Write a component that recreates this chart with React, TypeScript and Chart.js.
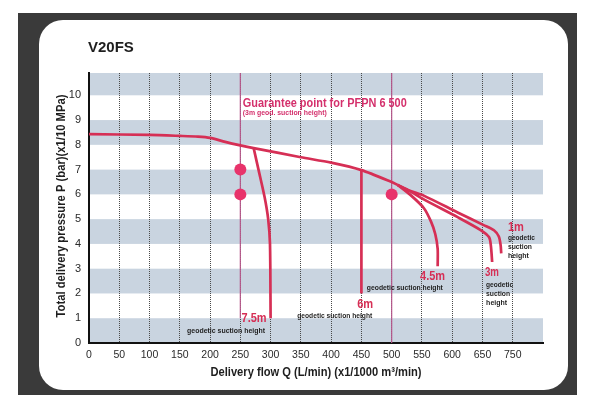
import React, { useEffect, useRef } from 'react';
import { Chart, registerables } from 'chart.js';

Chart.register(...registerables);

// ---- Data ----
const xTickValues = [0, 50, 100, 150, 200, 250, 300, 350, 400, 450, 500, 550, 600, 650, 700];
const xTickLabels = ['0', '50', '100', '150', '200', '250', '300', '350', '400', '450', '500', '550', '600', '650', '750'];
const yTickValues = [0, 1, 2, 3, 4, 5, 6, 7, 8, 9, 10];
const bandRanges: [number, number][] = [[0, 1], [2, 3], [4, 5], [6, 7], [8, 9], [10, 10.9]];

// common curve
const mainQ = [0, 100, 150, 180, 200, 225, 250, 272, 350, 400, 450, 500, 510];
const mainP = [8.43, 8.4, 8.36, 8.33, 8.28, 8.12, 7.98, 7.87, 7.5, 7.28, 6.98, 6.5, 6.38];
// 7.5 m geodetic suction height
const h75Q = [272, 280, 290, 296, 299, 300];
const h75P = [7.87, 7.0, 5.9, 5.0, 4.0, 1.0];
// 6 m
const h6Q = [450, 450];
const h6P = [6.98, 2.0];
// 4.5 m
const h45Q = [510, 530, 553, 565, 572, 576, 576];
const h45P = [6.38, 6.0, 5.45, 4.9, 4.4, 3.8, 3.1];
// 3 m
const h3Q = [510, 530, 553, 609, 647, 661, 664, 666];
const h3P = [6.38, 6.13, 5.8, 5.08, 4.56, 4.27, 3.9, 3.27];
// 1 m
const h1Q = [510, 530, 553, 609, 652, 669, 677, 680, 681];
const h1P = [6.38, 6.15, 5.95, 5.27, 4.76, 4.55, 4.3, 3.95, 3.62];
// guarantee reference lines and points
const guide250Q = [250, 250];
const guide250P = [10.9, 1.0];
const guide500Q = [500, 500];
const guide500P = [10.9, 0];
const guaranteeQ = [250, 250, 500];
const guaranteeP = [7, 6, 6];

const X_MAX = 750;
const Y_MAX = 10.9;

const CURVE = '#d62f55';
const GUIDE = '#b5578a';
const POINT = '#e8336b';
const MAGENTA = '#d4306c';
const BAND = '#c9d4e0';
const TEXT = '#1e1e1e';
const SANS = '"Liberation Sans", Arial, sans-serif';

const zip = (q: number[], p: number[]) => q.map((v, i) => ({ x: v, y: p[i] }));

type Note = { text: string; q: number; p: number; size: number; w: number; color: string };
const notes: Note[] = [
  { text: 'Guarantee point for PFPN 6 500', q: 254, p: 9.68, size: 12.5, w: 164, color: MAGENTA },
  { text: '(3m geod. suction height)', q: 254, p: 9.27, size: 6.5, w: 84, color: MAGENTA },
  { text: '7.5m', q: 252, p: 0.97, size: 12, w: 25, color: CURVE },
  { text: 'geodetic suction height', q: 162, p: 0.48, size: 7.5, w: 78, color: TEXT },
  { text: '6m', q: 443, p: 1.53, size: 12, w: 16, color: CURVE },
  { text: 'geodetic suction height', q: 344, p: 1.09, size: 7.5, w: 75, color: TEXT },
  { text: '4.5m', q: 547, p: 2.66, size: 12, w: 25, color: CURVE },
  { text: 'geodetic suction height', q: 459, p: 2.22, size: 7.5, w: 76, color: TEXT },
  { text: '3m', q: 654, p: 2.82, size: 12, w: 14, color: CURVE },
  { text: 'geodetic', q: 656, p: 2.34, size: 7.5, w: 27, color: TEXT },
  { text: 'suction', q: 656, p: 1.98, size: 7.5, w: 24, color: TEXT },
  { text: 'height', q: 656, p: 1.61, size: 7.5, w: 21, color: TEXT },
  { text: '1m', q: 692, p: 4.64, size: 12, w: 16, color: CURVE },
  { text: 'geodetic', q: 692, p: 4.23, size: 7.5, w: 27, color: TEXT },
  { text: 'suction', q: 692, p: 3.87, size: 7.5, w: 24, color: TEXT },
  { text: 'height', q: 692, p: 3.51, size: 7.5, w: 21, color: TEXT },
];

// draw text squeezed horizontally to a target width (condensed look)
function fitText(ctx: CanvasRenderingContext2D, text: string, x: number, y: number, font: string, w: number, align: 'left' | 'center') {
  ctx.font = font;
  const natural = ctx.measureText(text).width;
  const sx = w / natural;
  ctx.save();
  ctx.translate(x, y);
  ctx.scale(sx, 1);
  ctx.textAlign = align;
  ctx.fillText(text, 0, 0);
  ctx.restore();
}

const decorPlugin = {
  id: 'decor',
  beforeDraw(chart: any) {
    const { ctx, chartArea, scales } = chart;
    const y = scales.y;
    ctx.save();
    ctx.fillStyle = BAND;
    bandRanges.forEach(([a, b]) => {
      const top = y.getPixelForValue(b);
      const bot = y.getPixelForValue(a);
      ctx.fillRect(chartArea.left, top, chartArea.right - chartArea.left, bot - top);
    });
    ctx.restore();
  },
  afterDraw(chart: any) {
    const { ctx, scales } = chart;
    const x = scales.x;
    const y = scales.y;
    ctx.save();
    ctx.textBaseline = 'middle';
    ctx.fillStyle = TEXT;
    ctx.font = `bold 15px ${SANS}`;
    ctx.textAlign = 'left';
    ctx.fillText('V20FS', 88, 48);
    // axis titles
    fitText(ctx, 'Delivery flow Q (L/min) (x1/1000 m³/min)', 316, 372, `bold 13.5px ${SANS}`, 211, 'center');
    ctx.save();
    ctx.translate(61, 206);
    ctx.rotate(-Math.PI / 2);
    fitText(ctx, 'Total delivery pressure P (bar)(x1/10 MPa)', 0, 0, `bold 13px ${SANS}`, 223, 'center');
    ctx.restore();
    // notes
    notes.forEach((n) => {
      ctx.fillStyle = n.color;
      fitText(ctx, n.text, x.getPixelForValue(n.q), y.getPixelForValue(n.p), `bold ${n.size}px ${SANS}`, n.w, 'left');
    });
    ctx.restore();
  },
};

export default function App() {
  const ref = useRef<HTMLCanvasElement | null>(null);
  useEffect(() => {
    if (!ref.current) return;
    const curve = (data: { x: number; y: number }[]) => ({
      data,
      borderColor: CURVE,
      borderWidth: 2.7,
      pointRadius: 0,
      fill: false,
      tension: 0.25,
      order: 1,
    });
    const chart = new Chart(ref.current, {
      type: 'line',
      data: {
        datasets: [
          {
            data: zip(guaranteeQ, guaranteeP),
            showLine: false,
            pointRadius: 6,
            pointBackgroundColor: POINT,
            pointBorderWidth: 0,
            borderColor: POINT,
            order: 0,
          } as any,
          curve(zip(mainQ, mainP)),
          curve(zip(h75Q, h75P)),
          curve(zip(h6Q, h6P)),
          curve(zip(h45Q, h45P)),
          curve(zip(h3Q, h3P)),
          curve(zip(h1Q, h1P)),
          { data: zip(guide250Q, guide250P), borderColor: GUIDE, borderWidth: 1.2, pointRadius: 0, order: 2 },
          { data: zip(guide500Q, guide500P), borderColor: GUIDE, borderWidth: 1.2, pointRadius: 0, order: 2 },
        ],
      },
      options: {
        responsive: false,
        animation: false,
        devicePixelRatio: 1,
        layout: { padding: { left: 38, right: 57, top: 73, bottom: 34 } },
        plugins: { legend: { display: false }, tooltip: { enabled: false }, title: { display: false } },
        scales: {
          x: {
            type: 'linear',
            min: 0,
            max: X_MAX,
            afterBuildTicks: (s: any) => {
              s.ticks = xTickValues.map((v) => ({ value: v }));
            },
            afterFit: (s: any) => {
              s.height = 40;
            },
            ticks: {
              padding: 6,
              color: '#2a2a2a',
              font: { size: 10.5, family: SANS },
              maxRotation: 0,
              autoSkip: false,
              callback: (v: any) => {
                const i = xTickValues.indexOf(Number(v));
                return i >= 0 ? xTickLabels[i] : '';
              },
            },
            grid: { color: '#4a4a4a', lineWidth: 1, drawTicks: false },
            border: { color: '#111', width: 2, dash: [1, 1] },
          },
          y: {
            type: 'linear',
            min: 0,
            max: Y_MAX,
            afterBuildTicks: (s: any) => {
              s.ticks = yTickValues.map((v) => ({ value: v }));
            },
            afterFit: (s: any) => {
              s.width = 51;
            },
            ticks: {
              padding: 8,
              color: '#2a2a2a',
              font: { size: 11, family: SANS },
              callback: (v: any) => String(v),
            },
            grid: { display: false, drawTicks: false },
            border: { color: '#111', width: 2 },
          },
        },
      },
      plugins: [decorPlugin],
    } as any);
    return () => chart.destroy();
  }, []);

  return (
    <div style={{ position: 'absolute', left: 0, top: 0, width: 600, height: 417, background: '#fff', overflow: 'hidden' }}>
      <div style={{ position: 'absolute', left: 18, top: 13, width: 559, height: 382, background: '#3a3a3a' }} />
      <div style={{ position: 'absolute', left: 39, top: 20, width: 529, height: 370, background: '#fff', borderRadius: 24 }} />
      <canvas ref={ref} width={600} height={417} style={{ position: 'absolute', left: 0, top: 0, width: 600, height: 417 }} />
    </div>
  );
}
